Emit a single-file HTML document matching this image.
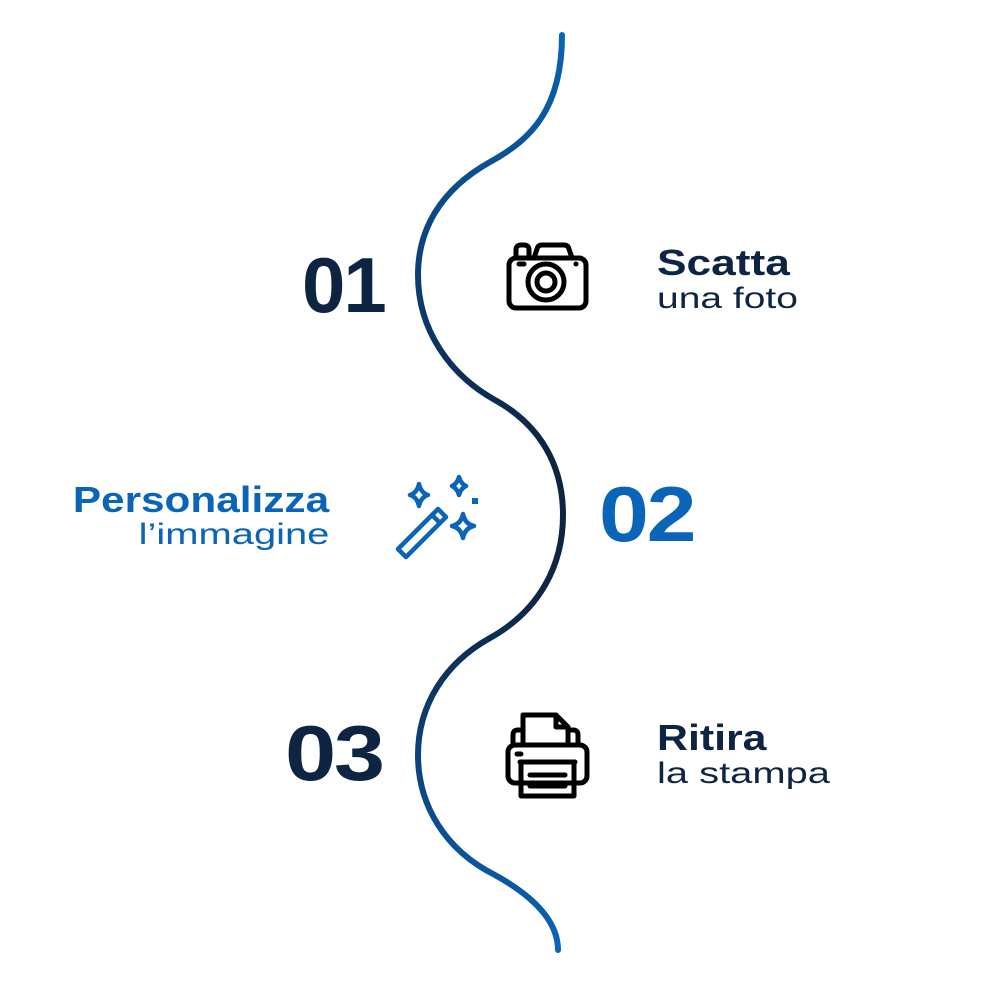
<!DOCTYPE html>
<html><head><meta charset="utf-8"><style>
body{margin:0;width:984px;height:984px;background:#fff;position:relative;overflow:hidden;font-family:"Liberation Sans",sans-serif}
.t{position:absolute;white-space:nowrap;transform-origin:0 0}
.r{transform-origin:100% 0}
.num{font-weight:bold;font-size:78px;letter-spacing:-2px}
.b{font-weight:bold;font-size:36px;line-height:36px}
.l{font-size:30px;line-height:34px}
</style></head><body>
<svg width="984" height="984" style="position:absolute;left:0;top:0">
<defs><linearGradient id="g" x1="0" y1="35" x2="0" y2="950" gradientUnits="userSpaceOnUse">
<stop offset="0" stop-color="#0a64b8"/><stop offset="0.45" stop-color="#0d2442"/><stop offset="0.6" stop-color="#0d2442"/><stop offset="1" stop-color="#0a64b8"/></linearGradient></defs>
<path d="M562,35 C562,110 530,140 490,162 C440,190 418,230 418,275 C418,330 450,375 495,400 C540,425 563,465 563,515 C563,565 540,610 490,638 C445,663 418,705 418,755 C418,805 445,850 495,875 C540,900 558,925 558,950" fill="none" stroke="url(#g)" stroke-width="6" stroke-linecap="round"/>
<g fill="none" stroke="#000" stroke-width="5" stroke-linejoin="round" stroke-linecap="round">
<rect x="509" y="258" width="77" height="50" rx="7"/>
<path d="M516,258 v-8 q0,-5 5,-5 h3 q5,0 5,5 v8"/>
<path d="M534,258 l3,-9 q1,-4 5,-4 h22 q4,0 5,4 l3,9"/>
<circle cx="546" cy="282" r="18"/><circle cx="546" cy="282" r="9"/>
<line x1="519" y1="264" x2="524" y2="264"/>
</g><circle cx="576" cy="264" r="2.5"/>
<g fill="none" stroke="#0a64b8" stroke-width="4.5" stroke-linejoin="round">
<path d="M398,549 l40,-40 l8,8 l-40,40 z"/><line x1="432" y1="515" x2="440" y2="523"/>
<path d="M419,484 q2,9 9,11 q-7,2 -9,11 q-2,-9 -9,-11 q7,-2 9,-11z"/>
<path d="M459,477 q2,7 7,9 q-5,2 -7,9 q-2,-7 -7,-9 q5,-2 7,-9z"/>
<path d="M463,514 q2,10 11,12 q-9,2 -11,12 q-2,-10 -11,-12 q9,-2 11,-12z"/>
</g><rect x="472" y="498" width="6" height="6" fill="#0a64b8"/>
<g fill="none" stroke="#000" stroke-width="5" stroke-linejoin="round" stroke-linecap="round">
<path d="M523,745 v-30 h33 l12,12 v18"/><path d="M556,715 v12 h12"/>
<path d="M522,730 h-4 q-5,0 -5,5 v10"/><path d="M569,730 h4 q5,0 5,5 v10"/>
<rect x="508" y="745" width="79" height="38" rx="7"/>
<path d="M520,762 h55 M521,762 v34 h53 v-34"/>
<line x1="530" y1="775" x2="565" y2="775"/><line x1="530" y1="786" x2="565" y2="786"/>
<line x1="517" y1="754" x2="521" y2="754"/>
</g>
</svg>
<div class="t num" style="left:302px;top:240px;color:#0d2442">01</div>
<div class="t num" style="left:599px;top:469px;color:#0a64b8;transform:scaleX(1.15)">02</div>
<div class="t num" style="left:285px;top:708px;color:#0d2442;transform:scaleX(1.18)">03</div>
<div class="t b" style="left:657px;top:245px;color:#0d2442;transform:scaleX(1.23)">Scatta</div>
<div class="t l" style="left:657px;top:282px;color:#0d2442;transform:scaleX(1.3)">una foto</div>
<div class="t b r" style="right:655px;top:482px;color:#0a64b8;transform:scaleX(1.175)">Personalizza</div>
<div class="t l r" style="right:655px;top:518px;color:#0a64b8;transform:scaleX(1.33)">l’immagine</div>
<div class="t b" style="left:657px;top:720px;color:#0d2442;transform:scaleX(1.19)">Ritira</div>
<div class="t l" style="left:657px;top:757px;color:#0d2442;transform:scaleX(1.33)">la stampa</div>
</body></html>
